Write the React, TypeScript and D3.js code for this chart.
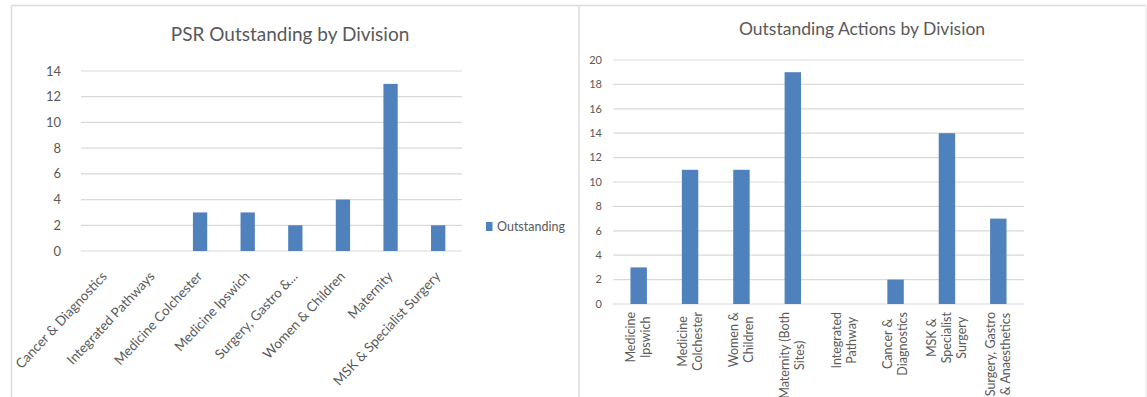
import React, { useEffect, useRef } from "react";
import * as d3 from "d3";

// PSR chart (left)
const psrCategories = [
  "Cancer & Diagnostics",
  "Integrated Pathways",
  "Medicine Colchester",
  "Medicine Ipswich",
  "Surgery, Gastro &...",
  "Women & Children",
  "Maternity",
  "MSK & Specialist Surgery",
];
const psrValues = [0, 0, 3, 3, 2, 4, 13, 2];
const psrTicks = [0, 2, 4, 6, 8, 10, 12, 14];

// Actions chart (right)
const actionCategories = [
  ["Medicine", "Ipswich"],
  ["Medicine", "Colchester"],
  ["Women &", "Children"],
  ["Maternity (Both", "Sites)"],
  ["Integrated", "Pathway"],
  ["Cancer &", "Diagnostics"],
  ["MSK &", "Specialist", "Surgery"],
  ["Surgery, Gastro", "& Anaesthetics"],
];
const actionValues = [3, 11, 11, 19, 0, 2, 14, 7];
const actionTicks = [0, 2, 4, 6, 8, 10, 12, 14, 16, 18, 20];

const W = 1147;
const H = 397;
const FONT = "Lato, 'Open Sans', sans-serif";
const BAR = "#4f81bd";
const GRID = "#d9d9d9";
const TEXT = "#595959";

const App = () => {
  const ref = useRef<SVGSVGElement | null>(null);

  useEffect(() => {
    const svg = d3.select(ref.current);
    svg.selectAll("*").remove();
    svg.style("font-family", FONT);

    // panel frames
    svg.append("rect").attr("width", W).attr("height", H).attr("fill", "#fff");
    const frame = svg.append("g").attr("stroke", "#dcdcdc").attr("stroke-width", 1.5);
    frame.append("line").attr("x1", 11.5).attr("x2", 1146).attr("y1", 5.5).attr("y2", 5.5);
    frame.append("line").attr("x1", 11.5).attr("x2", 11.5).attr("y1", 5.5).attr("y2", H);
    frame.append("line").attr("x1", 579).attr("x2", 579).attr("y1", 5.5).attr("y2", H);
    frame.append("line").attr("x1", 1146).attr("x2", 1146).attr("y1", 5.5).attr("y2", H).attr("stroke", "#eeeeee");

    // ---------- left chart ----------
    const x1 = d3.scaleBand<string>().domain(psrCategories).range([81, 462]).paddingInner(0.7).paddingOuter(0.35);
    const y1 = d3.scaleLinear().domain([0, 14]).range([251, 71]);
    const g1 = svg.append("g");

    g1.append("text")
      .attr("x", 290)
      .attr("y", 41)
      .attr("text-anchor", "middle")
      .attr("fill", TEXT)
      .style("font-size", "19px")
      .text("PSR Outstanding by Division");

    g1.append("g")
      .selectAll("line")
      .data(psrTicks)
      .join("line")
      .attr("x1", 81)
      .attr("x2", 462)
      .attr("y1", (d) => y1(d))
      .attr("y2", (d) => y1(d))
      .attr("stroke", GRID)
      .attr("stroke-width", 1.2);

    g1.append("g")
      .selectAll("text")
      .data(psrTicks)
      .join("text")
      .attr("x", 61)
      .attr("y", (d) => y1(d))
      .attr("dy", "0.35em")
      .attr("text-anchor", "end")
      .attr("fill", TEXT)
      .style("font-size", "13px")
      .text((d) => d);

    g1.append("g")
      .selectAll("rect")
      .data(psrValues)
      .join("rect")
      .attr("x", (_, i) => x1(psrCategories[i])!)
      .attr("width", x1.bandwidth())
      .attr("y", (d) => y1(d))
      .attr("height", (d) => y1(0) - y1(d))
      .attr("fill", BAR);

    g1.append("g")
      .selectAll("text")
      .data(psrCategories)
      .join("text")
      .attr("transform", (d) => `translate(${x1(d)! + x1.bandwidth() / 2 + 3},${277}) rotate(-47)`)
      .attr("text-anchor", "end")
      .attr("fill", TEXT)
      .style("font-size", "13.5px")
      .text((d) => d);

    // legend
    g1.append("rect").attr("x", 486).attr("y", 222).attr("width", 6.5).attr("height", 9).attr("fill", BAR);
    g1.append("text")
      .attr("x", 497)
      .attr("y", 226.5)
      .attr("dy", "0.35em")
      .attr("fill", TEXT)
      .style("font-size", "12.5px")
      .text("Outstanding");

    // ---------- right chart ----------
    const keys = actionCategories.map((d) => d.join(" "));
    const x2 = d3.scaleBand<string>().domain(keys).range([613, 1024]).paddingInner(0.68).paddingOuter(0.34);
    const y2 = d3.scaleLinear().domain([0, 20]).range([304, 60]);
    const g2 = svg.append("g");

    g2.append("text")
      .attr("x", 862)
      .attr("y", 35)
      .attr("text-anchor", "middle")
      .attr("fill", TEXT)
      .style("font-size", "17.5px")
      .text("Outstanding Actions by Division");

    g2.append("g")
      .selectAll("line")
      .data(actionTicks)
      .join("line")
      .attr("x1", 613)
      .attr("x2", 1024)
      .attr("y1", (d) => y2(d))
      .attr("y2", (d) => y2(d))
      .attr("stroke", GRID)
      .attr("stroke-width", 1.2);

    g2.append("g")
      .selectAll("text")
      .data(actionTicks)
      .join("text")
      .attr("x", 602)
      .attr("y", (d) => y2(d))
      .attr("dy", "0.35em")
      .attr("text-anchor", "end")
      .attr("fill", TEXT)
      .style("font-size", "11px")
      .text((d) => d);

    g2.append("g")
      .selectAll("rect")
      .data(actionValues)
      .join("rect")
      .attr("x", (_, i) => x2(keys[i])!)
      .attr("width", x2.bandwidth())
      .attr("y", (d) => y2(d))
      .attr("height", (d) => y2(0) - y2(d))
      .attr("fill", BAR);

    // rotated multi-line labels, block top-aligned under the axis, lines centred
    const lineH = 15;
    actionCategories.forEach((lines, i) => {
      const cx = x2(keys[i])! + x2.bandwidth() / 2;
      const lab = g2.append("g");
      const texts = lines.map((l) =>
        lab
          .append("text")
          .attr("text-anchor", "middle")
          .attr("fill", TEXT)
          .style("font-size", "12.5px")
          .text(l)
      );
      const maxLen = d3.max(texts, (t) => (t.node() as SVGTextElement).getComputedTextLength()) || 0;
      const cy = 312 + maxLen / 2;
      texts.forEach((t, j) => {
        const off = (j - (lines.length - 1) / 2) * lineH;
        t.attr("transform", `translate(${cx + off + 4},${cy}) rotate(-90)`);
      });
    });
  }, []);

  return (
    <svg
      ref={ref}
      width={W}
      height={H}
      style={{ position: "absolute", left: 0, top: 0 }}
    />
  );
};

export default App;
